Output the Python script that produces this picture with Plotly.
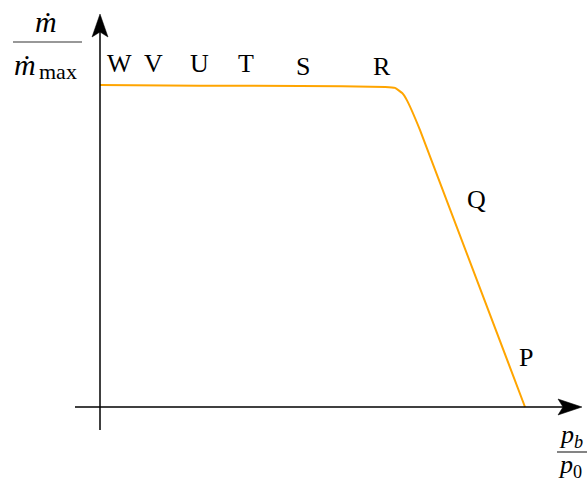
import plotly.graph_objects as go

# Mass-flow ratio versus back-pressure ratio for a converging nozzle
pressure_ratio = [0.0, 0.235, 0.471, 0.671, 0.694, 0.711, 0.722, 0.753, 1.0]
flow_ratio = [1.0, 0.998, 0.997, 0.994, 0.991, 0.975, 0.953, 0.860, 0.0]

# Operating-state labels
state_labels = ["W", "V", "U", "T", "S", "R", "Q", "P"]
state_pos = [(0.045, 1.068), (0.127, 1.068), (0.233, 1.068), (0.344, 1.068),
             (0.478, 1.059), (0.664, 1.059), (0.885, 0.643), (1.002, 0.155)]

W, H = 587, 484
X0, XS = 100, 425   # pixel of origin, pixels per unit (x)
Y0, YS = 407, 322   # pixel of origin, pixels per unit (y)


def dx(px):
    return (px - X0) / XS


def dy(py):
    return (Y0 - py) / YS


SERIF = "Liberation Serif"
FS = 26

fig = go.Figure()
fig.add_trace(go.Scatter(x=pressure_ratio, y=flow_ratio, mode="lines",
                         line=dict(color="#FFA500", width=2, shape="spline", smoothing=0.4),
                         hoverinfo="skip", showlegend=False))

shapes = []
# axes
shapes.append(dict(type="line", xref="x", yref="y", x0=dx(75), x1=dx(565), y0=0, y1=0,
                   line=dict(color="black", width=1.5)))
shapes.append(dict(type="line", xref="x", yref="y", x0=0, x1=0, y0=dy(430), y1=dy(30),
                   line=dict(color="black", width=1.5)))


def arrow_path(pts):
    return "M " + " L ".join(f"{dx(a):.5f},{dy(b):.5f}" for a, b in pts) + " Z"


# stealth arrowheads
shapes.append(dict(type="path", xref="x", yref="y",
                   path=arrow_path([(582, 407), (558, 399), (563, 407), (558, 415)]),
                   fillcolor="black", line=dict(color="black", width=0.5)))
shapes.append(dict(type="path", xref="x", yref="y",
                   path=arrow_path([(100, 14), (92, 37), (100, 32), (108, 37)]),
                   fillcolor="black", line=dict(color="black", width=0.5)))
# fraction bars of the axis titles
shapes.append(dict(type="line", xref="paper", yref="paper", x0=13 / W, x1=82 / W,
                   y0=1 - 42 / H, y1=1 - 42 / H, line=dict(color="#333", width=1.2)))
shapes.append(dict(type="line", xref="paper", yref="paper", x0=557 / W, x1=587 / W,
                   y0=1 - 452 / H, y1=1 - 452 / H, line=dict(color="#333", width=1.2)))

annotations = []
for lab, (x, y) in zip(state_labels, state_pos):
    annotations.append(dict(x=x, y=y, xref="x", yref="y", text=lab, showarrow=False,
                            xanchor="center", yanchor="middle",
                            font=dict(family=SERIF, size=FS, color="black")))


def paper_text(txt, px, py, size=FS):
    annotations.append(dict(x=px / W, y=1 - py / H, xref="paper", yref="paper", text=txt,
                            showarrow=False, xanchor="center", yanchor="middle",
                            borderpad=0,
                            font=dict(family=SERIF, size=size, color="black")))


# axis titles written as stacked fractions
paper_text("<i>ṁ</i>", 46, 21, 30)
paper_text("<i>ṁ</i>", 25, 64, 30)
paper_text("max", 58, 71, 22)
paper_text("<i>p</i><sub><i>b</i></sub>", 571, 436, 26)
paper_text("<i>p</i><sub>0</sub>", 570, 466, 26)

fig.update_layout(
    width=W, height=H, margin=dict(l=0, r=0, t=0, b=0),
    paper_bgcolor="white", plot_bgcolor="white",
    xaxis=dict(range=[dx(0), dx(W)], visible=False, fixedrange=True),
    yaxis=dict(range=[dy(H), dy(0)], visible=False, fixedrange=True),
    shapes=shapes, annotations=annotations,
)

fig.write_html("out.html")
